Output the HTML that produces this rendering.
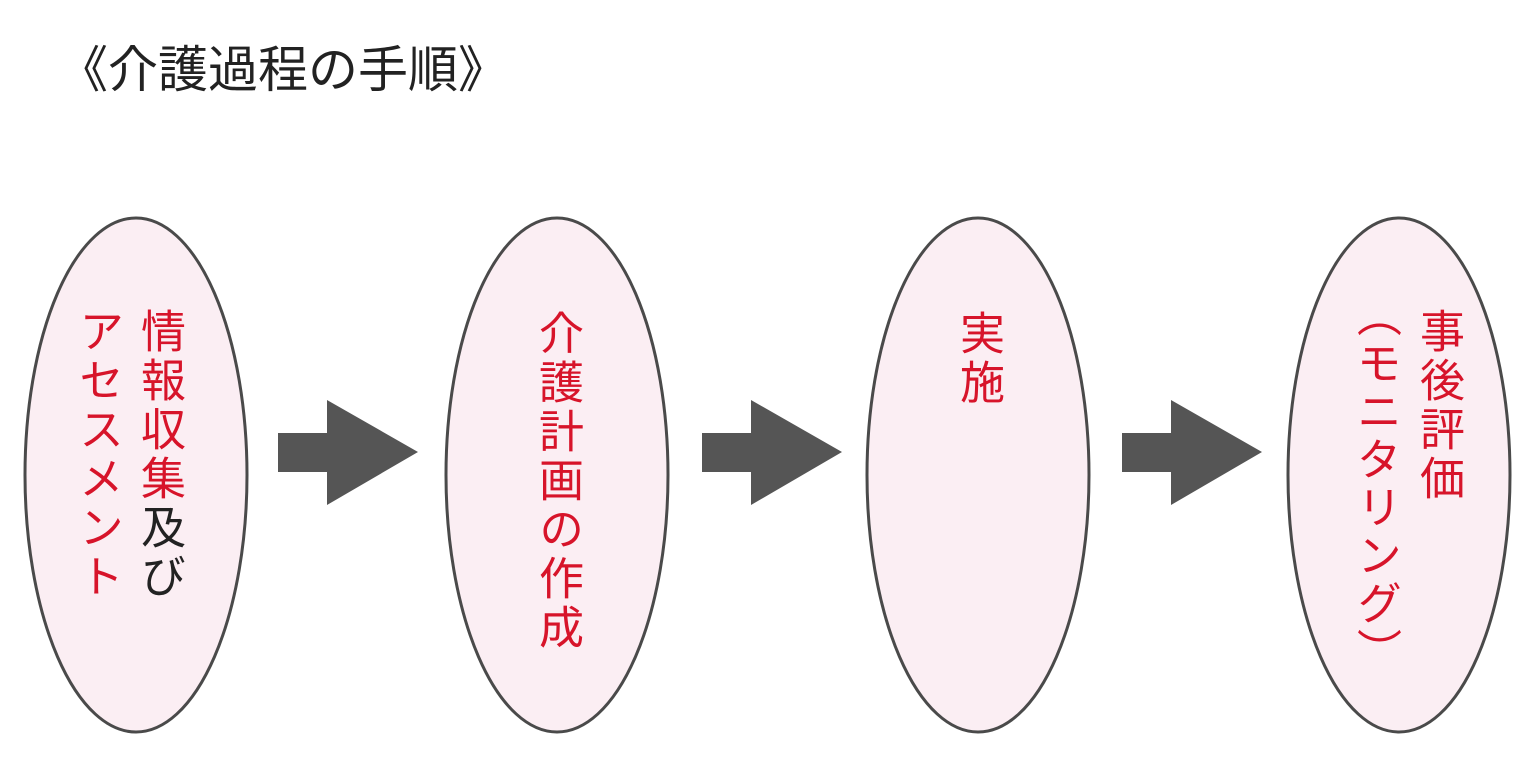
<!DOCTYPE html>
<html><head><meta charset="utf-8"><style>
body{margin:0;width:1537px;height:758px;background:#fff;position:relative;overflow:hidden;font-family:"Liberation Sans","Noto Sans CJK JP",sans-serif;}
.t{position:absolute;left:58px;top:30px;font-size:50px;color:#222;white-space:nowrap;}
.c{position:absolute;writing-mode:vertical-rl;font-size:45px;line-height:50px;color:#d7142a;white-space:nowrap;letter-spacing:4px;}
svg{position:absolute;left:0;top:0;}
</style></head><body>
<svg width="1537" height="758">
<g fill="#fbeef3" stroke="#4a4a4a" stroke-width="3">
<ellipse cx="136" cy="475" rx="111" ry="257"/>
<ellipse cx="557" cy="475" rx="111" ry="257"/>
<ellipse cx="978" cy="475" rx="111" ry="257"/>
<ellipse cx="1399" cy="475" rx="111" ry="257"/>
</g>
<g fill="#555">
<polygon points="278,433 327,433 327,400 418,452 327,505 327,472 278,472"/>
<polygon points="702,433 751,433 751,400 842,452 751,505 751,472 702,472"/>
<polygon points="1122,433 1171,433 1171,400 1262,452 1171,505 1171,472 1122,472"/>
</g>
</svg>
<div class="t">《介護過程の手順》</div>
<div class="c" style="left:134px;top:308px">情報収集<span style="color:#222">及び</span></div>
<div class="c" style="left:72px;top:308px">アセスメント</div>
<div class="c" style="left:532px;top:310px">介護計画の作成</div>
<div class="c" style="left:953px;top:310px">実施</div>
<div class="c" style="left:1413px;top:308px">事後評価</div>
<div class="c" style="left:1350px;top:292px;letter-spacing:3px">（モニタリング）</div>
</body></html>
